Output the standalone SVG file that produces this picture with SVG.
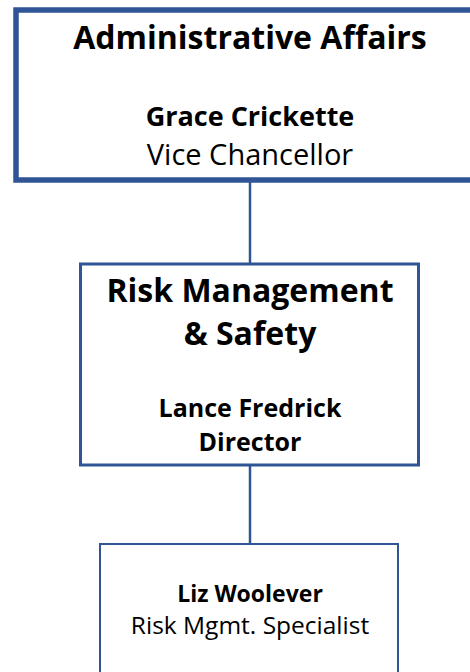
<svg xmlns="http://www.w3.org/2000/svg" width="470" height="672" viewBox="0 0 470 672">
<style>
.box{fill:#ffffff;stroke:#2f5597}
.t{font-family:"Open Sans",Lato,"Liberation Sans",sans-serif;fill:#000;text-anchor:middle}
.b{font-weight:bold}
.conn{stroke:#2f5597;stroke-width:2.5;fill:none}
</style>
<rect width="470" height="672" fill="#ffffff"/>
<g id="connectors">
<line class="conn" x1="250" y1="182" x2="250" y2="264"/>
<line class="conn" x1="250" y1="465" x2="250" y2="544"/>
</g>
<g id="admin">
<rect class="box" x="16" y="10" width="470" height="170" stroke-width="5.5"/>
<text class="t b" x="250" y="49" font-size="32">Administrative Affairs</text>
<text class="t b" x="250" y="126" font-size="27">Grace Crickette</text>
<text class="t" x="250" y="165" font-size="29">Vice Chancellor</text>
</g>
<g id="risk">
<rect class="box" x="80.5" y="264" width="338" height="201" stroke-width="3"/>
<text class="t b" x="250" y="302" font-size="32">Risk Management</text>
<text class="t b" x="250" y="345" font-size="32">&amp; Safety</text>
<text class="t b" x="250" y="417" font-size="25">Lance Fredrick</text>
<text class="t b" x="250" y="451" font-size="25">Director</text>
</g>
<g id="liz">
<rect class="box" x="100" y="544" width="298" height="140" stroke-width="2"/>
<text class="t b" x="250" y="602" font-size="23">Liz Woolever</text>
<text class="t" x="250" y="634" font-size="24.5">Risk Mgmt. Specialist</text>
</g>
</svg>
